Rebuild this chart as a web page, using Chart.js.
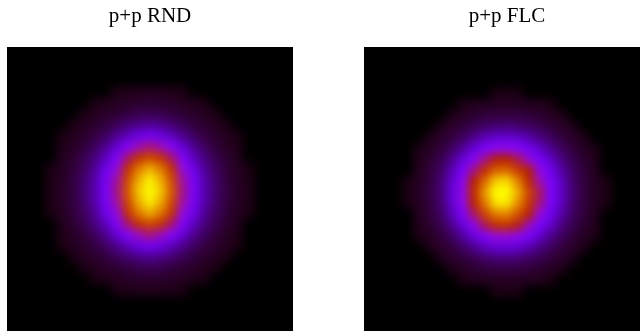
<!DOCTYPE html>
<html>
<head>
<meta charset="utf-8">
<script src="https://cdn.jsdelivr.net/npm/chart.js@4.4.1/dist/chart.umd.min.js"></script>
<style>
  html, body { margin: 0; padding: 0; background: #ffffff; overflow: hidden; width: 640px; height: 331px; }
  canvas { position: absolute; top: 0; }
  #c1 { left: 7px; }
  #c2 { left: 364px; }
</style>
</head>
<body>
<canvas id="c1" width="286" height="333"></canvas>
<canvas id="c2" width="286" height="333"></canvas>
<script>
// ---- data (cell grid, columns/rows are cell indices about the centre) ----
const panelTitles = ['p+p RND', 'p+p FLC'];
const cols = [-9, -8, -7, -6, -5, -4, -3, -2, -1, 0, 1, 2, 3, 4, 5, 6, 7, 8, 9];
const rows = [-9, -8, -7, -6, -5, -4, -3, -2, -1, 0, 1, 2, 3, 4, 5, 6, 7, 8, 9];

// relative density (0-100), rows from top to bottom
const rndValues = [
  [0,0,0,0,0,0,1.3,1.5,1.7,1.7,1.7,1.5,1.3,0,0,0,0,0,0],
  [0,0,0,0,1.2,1.7,2.0,2.5,2.9,3.0,2.9,2.5,2.0,1.7,1.2,0,0,0,0],
  [0,0,0,1.3,1.9,2.6,3.3,4.0,4.8,5.2,4.8,4.0,3.3,2.6,1.9,1.3,0,0,0],
  [0,0,1.3,2.0,2.9,3.9,5.6,7.5,9.2,10,9.2,7.5,5.6,3.9,2.9,2.0,1.3,0,0],
  [0,1.1,1.8,2.8,4.1,6.2,9.5,13.4,18,21,18,13.4,9.5,6.2,4.1,2.8,1.8,1.1,0],
  [0,1.4,2.3,3.7,6,9.6,16,27,37,42,37,27,16,9.6,6,3.7,2.3,1.4,0],
  [0,1.8,3.0,5,8.2,13.6,25,43,58,66,58,43,25,13.6,8.2,5,3.0,1.8,0],
  [1.2,2.0,3.5,6,10,19,33,58,78,88,78,58,33,19,10,6,3.5,2.0,1.2],
  [1.3,2.3,3.9,6.8,11.5,22,39,66,88,98,88,66,39,22,11.5,6.8,3.9,2.3,1.3],
  [1.4,2.3,4,7,12,23,41,70,92,100,92,70,41,23,12,7,4,2.3,1.4],
  [1.3,2.3,3.9,6.8,11.5,22,39,66,88,98,88,66,39,22,11.5,6.8,3.9,2.3,1.3],
  [1.2,2.0,3.5,6,10,19,33,58,78,88,78,58,33,19,10,6,3.5,2.0,1.2],
  [0,1.8,3.0,5,8.2,13.6,25,43,58,66,58,43,25,13.6,8.2,5,3.0,1.8,0],
  [0,1.4,2.3,3.7,6,9.6,16,27,37,42,37,27,16,9.6,6,3.7,2.3,1.4,0],
  [0,1.1,1.8,2.8,4.1,6.2,9.5,13.4,18,21,18,13.4,9.5,6.2,4.1,2.8,1.8,1.1,0],
  [0,0,1.3,2.0,2.9,3.9,5.6,7.5,9.2,10,9.2,7.5,5.6,3.9,2.9,2.0,1.3,0,0],
  [0,0,0,1.3,1.9,2.6,3.3,4.0,4.8,5.2,4.8,4.0,3.3,2.6,1.9,1.3,0,0,0],
  [0,0,0,0,1.2,1.7,2.0,2.5,2.9,3.0,2.9,2.5,2.0,1.7,1.2,0,0,0,0],
  [0,0,0,0,0,0,1.3,1.5,1.7,1.7,1.7,1.5,1.3,0,0,0,0,0,0]
];

const flcValues = [
  [0,0,0,0,0,0,0,0,1.15,1.2,1.15,0,0,0,0,0,0,0,0],
  [0,0,0,0,0,1.25,1.7,1.95,2.15,2.2,2.15,1.95,1.7,1.25,0,0,0,0,0],
  [0,0,0,0,1.55,2.15,3.0,3.6,4.0,4.1,4.0,3.6,3.0,2.15,1.55,0,0,0,0],
  [0,0,0,1.7,2.6,3.7,5.0,6.4,7.4,7.7,7.2,6.2,5.0,3.7,2.6,1.7,0,0,0],
  [0,0,1.55,2.6,4.0,6.0,9.0,12.6,15,15.6,14.6,11.8,8.4,6.0,4.0,2.6,1.55,0,0],
  [0,1.25,2.15,3.7,6.0,10.2,16,23.8,29.3,30.5,27.2,20.4,14.6,9.4,6.0,3.7,2.15,1.25,0],
  [0,1.7,3.0,5.0,9.0,16,27.8,40.8,49.3,50.8,45,33.4,22.3,14.3,8.4,5.0,3.0,1.7,0],
  [0,1.95,3.6,6.2,12.4,23.4,40.8,56.5,72,74,61,49.5,31.3,19.4,11.3,6.2,3.6,1.95,0],
  [1.15,2.15,4.0,7.1,15,29.4,50.5,74,93,95,80,53.5,38,22.9,13.4,6.9,4.0,2.15,1.15],
  [1.2,2.2,4.1,7.5,16,32,54.5,84,100,100,88,64,44,24.2,14.2,7.2,4.1,2.2,1.2],
  [1.15,2.15,4.0,7.1,15.1,30,51.6,77,96,97,82,60.5,41.7,23,13.5,6.9,4.0,2.15,1.15],
  [0,1.95,3.6,6.2,12.7,24.4,43.2,64,78,80,68,50.4,32.4,19.5,11.3,6.2,3.6,1.95,0],
  [0,1.7,3.0,5.0,9.2,16.3,29.4,44.4,56,58,48.7,36,23.4,14.4,8.4,5.0,3.0,1.7,0],
  [0,1.25,2.15,3.7,6.1,10.5,16.9,26,32.8,34.2,29.6,22.1,15,9.3,6.0,3.7,2.15,1.25,0],
  [0,0,1.55,2.6,4.0,6.3,9.3,13.3,15.9,16.7,15.4,12.3,8.6,6.0,4.0,2.6,1.55,0,0],
  [0,0,0,1.7,2.6,3.7,5.0,6.7,7.8,8.0,7.5,6.3,5.0,3.7,2.6,1.7,0,0,0],
  [0,0,0,0,1.55,2.15,3.0,3.6,4.0,4.1,4.0,3.6,3.0,2.15,1.55,0,0,0,0],
  [0,0,0,0,0,1.25,1.7,1.95,2.15,2.2,2.15,1.95,1.7,1.25,0,0,0,0,0],
  [0,0,0,0,0,0,0,0,1.15,1.2,1.15,0,0,0,0,0,0,0,0]
];

// ---- colour map (gnuplot style: black -> purple -> red -> yellow) ----
function gnuplotColor(value) {
  const v = Math.max(0, Math.min(1, value / 100));
  const r = Math.round(255 * Math.sqrt(v));
  const g = Math.round(255 * v * v * v);
  const b = Math.round(255 * Math.max(0, Math.sin(2 * Math.PI * v)));
  return `rgb(${r},${g},${b})`;
}

function buildPoints(grid) {
  const pts = [];
  rows.forEach((ry, r) => {
    cols.forEach((cx, c) => {
      pts.push({ x: cx, y: ry, v: grid[r][c] });
    });
  });
  return pts;
}

const blackArea = {
  id: 'blackArea',
  beforeDatasetsDraw(chart) {
    const { ctx, chartArea: a } = chart;
    ctx.save();
    ctx.fillStyle = '#000000';
    ctx.fillRect(a.left, a.top, a.right - a.left, a.bottom - a.top);
    ctx.restore();
  }
};

const smoothCells = {
  id: 'smoothCells',
  afterDatasetsDraw(chart) {
    const { ctx, chartArea: a } = chart;
    const w = Math.round(a.right - a.left), h = Math.round(a.bottom - a.top);
    const off = document.createElement('canvas');
    off.width = w; off.height = h;
    off.getContext('2d').drawImage(chart.canvas, a.left, a.top, w, h, 0, 0, w, h);
    ctx.save();
    ctx.beginPath();
    ctx.rect(a.left, a.top, w, h);
    ctx.clip();
    ctx.filter = 'blur(4.5px)';
    ctx.drawImage(off, a.left, a.top);
    ctx.restore();
  }
};

function makeChart(id, title, grid, yMin) {
  const cellRadius = (ctx) => {
    const s = ctx.chart.scales.x;
    return Math.abs(s.getPixelForValue(1) - s.getPixelForValue(0)) * 0.75;
  };
  return new Chart(document.getElementById(id), {
    type: 'scatter',
    data: {
      datasets: [{
        data: buildPoints(grid),
        pointStyle: 'rect',
        pointRadius: cellRadius,
        pointHoverRadius: cellRadius,
        borderWidth: 0,
        backgroundColor: (ctx) => gnuplotColor(ctx.raw ? ctx.raw.v : 0),
        borderColor: 'rgba(0,0,0,0)'
      }]
    },
    options: {
      responsive: false,
      animation: false,
      devicePixelRatio: 1,
      events: [],
      layout: { padding: 0 },
      scales: {
        x: { type: 'linear', min: -13, max: 13, display: false },
        y: { type: 'linear', min: yMin, max: yMin + 26, reverse: true, display: false }
      },
      plugins: {
        legend: { display: false },
        tooltip: { enabled: false },
        title: {
          display: true,
          text: title,
          color: '#000000',
          font: { family: '"Liberation Serif", "Times New Roman", serif', size: 21, weight: 'normal', lineHeight: 1.2 },
          padding: { top: 4, bottom: 17.8 }
        }
      }
    },
    plugins: [blackArea, smoothCells]
  });
}

makeChart('c1', panelTitles[0], rndValues, -13.09);
makeChart('c2', panelTitles[1], flcValues, -13.23);
</script>
</body>
</html>
